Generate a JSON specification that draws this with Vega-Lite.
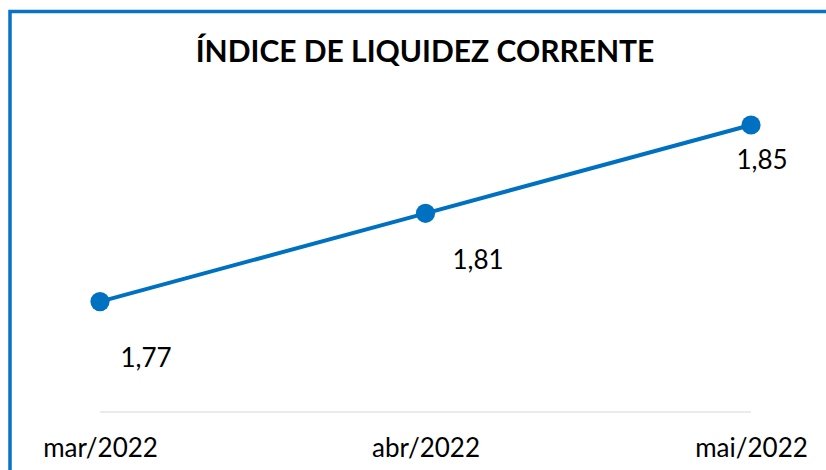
{
  "$schema": "https://vega.github.io/schema/vega-lite/v6.json",
  "autosize": "none",
  "width": 816,
  "height": 458.5,
  "padding": {"left": 10, "top": 11.5, "right": 0, "bottom": 0},
  "background": "white",
  "config": {
    "view": {"stroke": "#0A72C6", "strokeWidth": 3.5, "strokeDash": [816, 1274.5, 458.5], "strokeCap": "square"},
    "font": "Lato"
  },
  "title": {
    "text": "ÍNDICE DE LIQUIDEZ CORRENTE",
    "font": "Lato",
    "fontSize": 30,
    "fontWeight": "bold",
    "color": "#000000",
    "anchor": "middle",
    "frame": "group",
    "baseline": "alphabetic",
    "offset": -80.5,
    "dx": 7
  },
  "data": {
    "values": [
      {"mes": "mar/2022", "indice": 1.77, "rotulo": "1,77"},
      {"mes": "abr/2022", "indice": 1.81, "rotulo": "1,81"},
      {"mes": "mai/2022", "indice": 1.85, "rotulo": "1,85"}
    ]
  },
  "encoding": {
    "x": {
      "field": "mes",
      "type": "ordinal",
      "sort": ["mar/2022", "abr/2022", "mai/2022"],
      "scale": {"type": "point", "range": [90, 741], "padding": 0},
      "axis": {
        "title": null,
        "domain": false,
        "ticks": false,
        "grid": false,
        "labelAngle": 0,
        "labelFont": "Lato",
        "labelFontSize": 26,
        "labelColor": "#000000",
        "labelBaseline": "alphabetic",
        "labelPadding": 0,
        "offset": -14
      }
    },
    "y": {
      "field": "indice",
      "type": "quantitative",
      "scale": {"domain": [1.72, 1.85], "range": [400.5, 113.5], "zero": false, "nice": false},
      "axis": null
    }
  },
  "layer": [
    {
      "mark": {"type": "rule", "color": "#EBEBEB", "strokeWidth": 1.5},
      "encoding": {
        "x": {"datum": "mar/2022"},
        "x2": {"datum": "mai/2022"},
        "y": {"datum": 1.72}
      }
    },
    {
      "mark": {"type": "line", "color": "#0070C0", "strokeWidth": 4}
    },
    {
      "mark": {"type": "point", "filled": true, "color": "#0070C0", "size": 370, "opacity": 1}
    },
    {
      "transform": [{"filter": "datum.mes == 'mar/2022'"}],
      "mark": {"type": "text", "font": "Lato", "fontSize": 26, "color": "#000000", "baseline": "middle", "align": "center", "dx": 46, "dy": 57},
      "encoding": {"text": {"field": "rotulo"}}
    },
    {
      "transform": [{"filter": "datum.mes == 'abr/2022'"}],
      "mark": {"type": "text", "font": "Lato", "fontSize": 26, "color": "#000000", "baseline": "middle", "align": "center", "dx": 52.5, "dy": 48},
      "encoding": {"text": {"field": "rotulo"}}
    },
    {
      "transform": [{"filter": "datum.mes == 'mai/2022'"}],
      "mark": {"type": "text", "font": "Lato", "fontSize": 26, "color": "#000000", "baseline": "middle", "align": "center", "dx": 11, "dy": 36},
      "encoding": {"text": {"field": "rotulo"}}
    }
  ]
}
